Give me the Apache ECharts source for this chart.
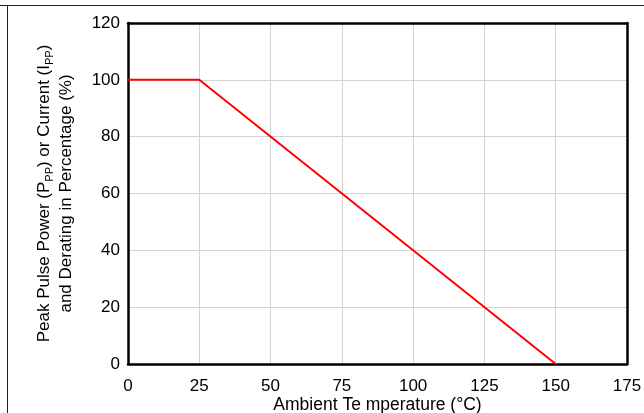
<!DOCTYPE html>
<html><head><meta charset="utf-8">
<script src="https://cdn.jsdelivr.net/npm/echarts@6/dist/echarts.min.js"></script>
<style>html,body{margin:0;padding:0;background:#fff}#c{width:644px;height:413px}</style>
</head><body><div id="c"></div>
<script>
const temps = [0, 25, 150];
const derating = [100, 100, 0];
const xTicks = [0, 25, 50, 75, 100, 125, 150, 175];
const yTicks = [0, 20, 40, 60, 80, 100, 120];

const chart = echarts.init(document.getElementById('c'), null, {renderer: 'canvas'});
const font = '"Liberation Sans", Arial, sans-serif';
const frameLine = {show: true, onZero: false, lineStyle: {color: '#000', width: 2.5}};
chart.setOption({
  animation: false,
  textStyle: {fontFamily: font},
  grid: {left: 128, right: 17, top: 23, bottom: 49, containLabel: false, outerBoundsMode: 'none'},
  xAxis: [{
    type: 'value', position: 'bottom', min: xTicks[0], max: xTicks[xTicks.length-1], interval: 25,
    name: 'Ambient Te mperature (°C)', nameLocation: 'middle', nameGap: 32, nameMoveOverlap: false,
    nameTextStyle: {fontSize: 17.5, color: '#000', fontFamily: font},
    axisLine: frameLine, axisTick: {show: false},
    axisLabel: {fontSize: 17, color: '#000', margin: 14, fontFamily: font},
    splitLine: {show: true, lineStyle: {color: '#d4d4d4', width: 1}}
  }, {
    type: 'value', position: 'top', min: xTicks[0], max: xTicks[xTicks.length-1], interval: 25,
    axisLine: frameLine, axisTick: {show: false}, axisLabel: {show: false}, splitLine: {show: false}
  }],
  yAxis: [{
    type: 'value', position: 'left', min: yTicks[0], max: yTicks[yTicks.length-1], interval: 20,
    name: 'Peak Pulse Power (P{s|PP}) or Current (I{s|PP})\nand Derating in Percentage (%)',
    nameLocation: 'middle', nameRotate: 90, nameGap: 51, nameMoveOverlap: false,
    nameTextStyle: {fontSize: 17, color: '#000', fontFamily: font, lineHeight: 22,
      rich: {s: {fontSize: 11, color: '#000', fontFamily: font, verticalAlign: 'bottom', lineHeight: 22, padding: [5, 0, 0, 0]}}},
    axisLine: frameLine, axisTick: {show: false},
    axisLabel: {fontSize: 17, color: '#000', margin: 8, fontFamily: font},
    splitLine: {show: true, lineStyle: {color: '#d4d4d4', width: 1}}
  }, {
    type: 'value', position: 'right', min: yTicks[0], max: yTicks[yTicks.length-1], interval: 20,
    axisLine: frameLine, axisTick: {show: false}, axisLabel: {show: false}, splitLine: {show: false}
  }],
  series: [{
    type: 'line', data: temps.map((t, i) => [t, derating[i]]),
    symbol: 'none', lineStyle: {color: '#ff0000', width: 2}, z: 5
  }],
  graphic: [
    {type: 'line', shape: {x1: 0, y1: 5.5, x2: 644, y2: 5.5}, style: {stroke: '#222', lineWidth: 1}},
    {type: 'line', shape: {x1: 7.5, y1: 5.5, x2: 7.5, y2: 413}, style: {stroke: '#222', lineWidth: 1}}
  ]
});
</script></body></html>
